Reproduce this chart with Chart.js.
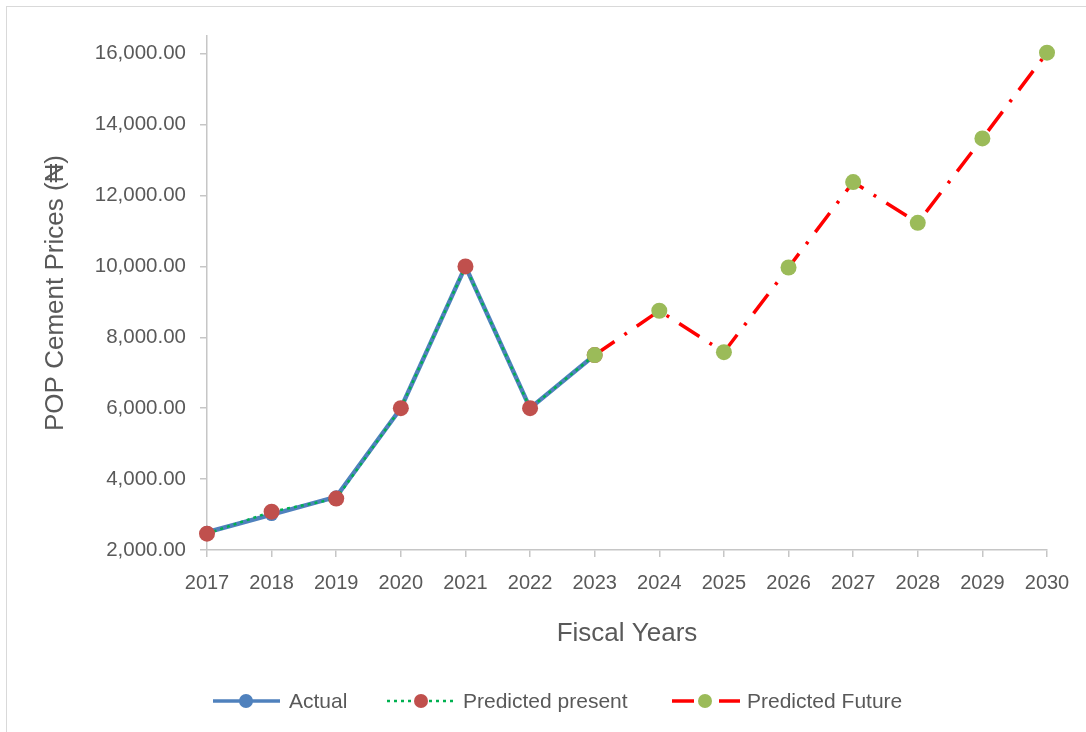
<!DOCTYPE html>
<html>
<head>
<meta charset="utf-8">
<script src="https://cdn.jsdelivr.net/npm/chart.js@4/dist/chart.umd.min.js"></script>
<style>
body{margin:0;background:#fff;overflow:hidden}
#frame{position:absolute;left:6px;top:6px;width:1200px;height:800px;border:1.5px solid #d9d9d9}
canvas{position:absolute;left:0;top:0}
</style>
</head>
<body>
<div id="frame"></div>
<canvas id="c" width="1086" height="732"></canvas>
<script>
// fiscal years and price series
let years=["2017","2018","2019","2020","2021","2022","2023","2024","2025","2026","2027","2028","2029","2030"];
let actual=[2500,3000,3500,6000,10000,6000,7500,null,null,null,null,null,null,null];
let predPresent=[2460,3080,3450,6000,10000,6000,7500,null,null,null,null,null,null,null];
let predFuture=[null,null,null,null,null,null,7500,8750,7580,9970,12380,11230,13610,16030];
let yTicks=[2000,4000,6000,8000,10000,12000,14000,16000];

let txt="#595959";
let fam="'Liberation Sans', Arial, sans-serif";

let sets=[
    {label:"Actual",data:actual,borderColor:"#4F81BD",borderWidth:4.5,borderDash:[],
     pointBackgroundColor:"#4F81BD",pointBorderColor:"#4F81BD",pointRadius:6.5,order:3},
    {label:"Predicted present",data:predPresent,borderColor:"#00B050",borderWidth:2.5,borderDash:[3,4],
     pointBackgroundColor:"#C0504D",pointBorderColor:"#C0504D",pointRadius:8,order:2},
    {label:"Predicted Future",data:predFuture,borderColor:"#FF0000",borderWidth:3.5,borderDash:[24,12,3,12],
     pointBackgroundColor:"#9BBB59",pointBorderColor:"#9BBB59",pointRadius:8,order:1}
];

// excel-style legend: line + marker + text
let legendPlugin={
    id:"xlLegend",
    afterDraw(chart){
        let ctx=chart.ctx;
        let items=[[213,280,246,289],[387,453,421,463],[672,740,705,747]];
        let y=701;
        ctx.save();
        sets.forEach((s,i)=>{
            let it=items[i];
            ctx.beginPath();
            ctx.strokeStyle=s.borderColor;
            ctx.lineWidth=Math.min(s.borderWidth,3.5);
            ctx.setLineDash(i==2?[22,12,1,12]:s.borderDash);
            ctx.moveTo(it[0],y);ctx.lineTo(it[1],y);
            ctx.stroke();
            ctx.setLineDash([]);
            ctx.beginPath();
            ctx.fillStyle=s.pointBackgroundColor;
            ctx.arc(it[2],y,7,0,Math.PI*2);
            ctx.fill();
            ctx.fillStyle=txt;
            ctx.font="21px "+fam;
            ctx.textBaseline="middle";
            ctx.textAlign="left";
            ctx.fillText(s.label,it[3],y+1);
        });
        ctx.restore();
    }
};

new Chart(document.getElementById("c"),{
    type:"line",
    data:{
        labels:years,
        datasets:sets.map(s=>Object.assign({fill:false,tension:0,spanGaps:false,pointHoverRadius:s.pointRadius,pointBorderWidth:0},s))
    },
    options:{
        responsive:false,
        animation:false,
        layout:{padding:{top:36,right:39,left:0,bottom:60}},
        plugins:{legend:{display:false},tooltip:{enabled:false}},
        scales:{
            x:{
                offset:false,
                grid:{drawOnChartArea:false,color:"#c6c6c6",tickLength:7,lineWidth:1.5},
                border:{color:"#c6c6c6",width:1.5},
                ticks:{color:txt,font:{family:fam,size:20},padding:14,maxRotation:0,autoSkip:false},
                title:{display:true,text:"Fiscal Years",color:txt,font:{family:fam,size:26},padding:{top:0,bottom:23}},
                afterFit(s){s.height=122;}
            },
            y:{
                min:2000,max:16500,
                grid:{drawOnChartArea:false,color:"#c6c6c6",tickLength:7,lineWidth:1.5},
                border:{color:"#c6c6c6",width:1.5},
                ticks:{autoSkip:false,color:txt,font:{family:fam,size:20.5},padding:14,
                    callback:v=>v.toLocaleString("en-US",{minimumFractionDigits:2,maximumFractionDigits:2})},
                afterBuildTicks(s){s.ticks=yTicks.map(v=>({value:v}));},
                title:{display:true,text:"POP Cement Prices (₦)",color:txt,font:{family:fam,size:26},padding:{top:40,bottom:0}},
                afterFit(s){s.width=207;}
            }
        }
    },
    plugins:[legendPlugin]
});
</script>
</body>
</html>
